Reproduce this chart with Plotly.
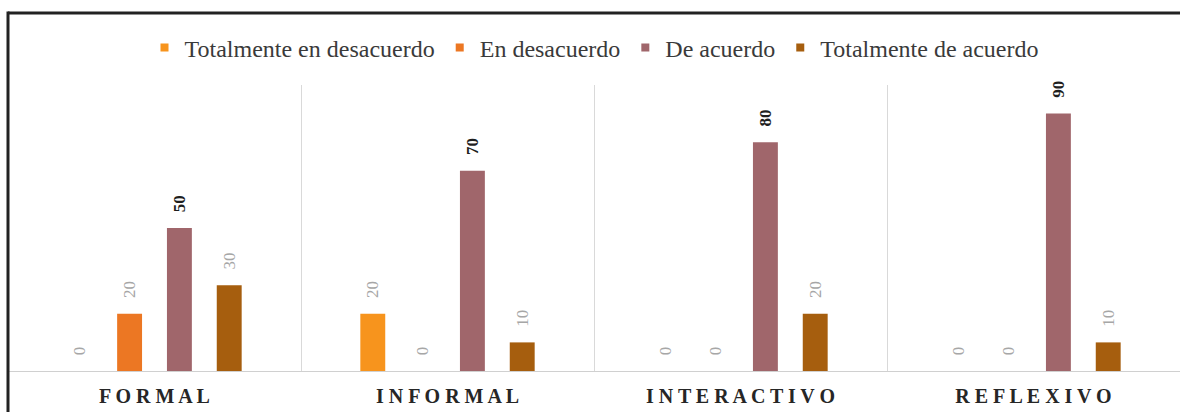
import plotly.graph_objects as go

categories = ["FORMAL", "INFORMAL", "INTERACTIVO", "REFLEXIVO"]
series_names = ["Totalmente en desacuerdo", "En desacuerdo", "De acuerdo", "Totalmente de acuerdo"]
totalmente_desacuerdo = [0, 20, 0, 0]
en_desacuerdo = [20, 0, 0, 0]
de_acuerdo = [50, 70, 80, 90]
totalmente_acuerdo = [30, 10, 20, 10]

series_values = [totalmente_desacuerdo, en_desacuerdo, de_acuerdo, totalmente_acuerdo]
colors = ["#F7941D", "#EC7723", "#A0666B", "#A65E0E"]
label_colors = ["#A6A6A6", "#A6A6A6", "#1E1E1E", "#A6A6A6"]
label_bold = [False, False, True, False]

SERIF = "Liberation Serif, Times New Roman, serif"
PAD = "\u00a0" * 3

W, H = 1180, 412
L, T, B = 8, 85, 41
PH = H - T - B

fig = go.Figure()
for name, vals, col, lcol, bold in zip(series_names, series_values, colors, label_colors, label_bold):
    fig.add_trace(go.Bar(
        x=categories, y=vals, name=name, marker_color=col, marker_line_width=0,
        text=[PAD + str(v) for v in vals], textposition="outside", textangle=-90,
        constraintext="none", cliponaxis=False,
        textfont=dict(family=SERIF, size=17, color=lcol, weight="bold" if bold else "normal"),
        showlegend=False, hoverinfo="skip",
    ))
# legend entries with small square symbols
for name, col in zip(series_names, colors):
    fig.add_trace(go.Scatter(
        x=[None], y=[None], mode="markers", name=name,
        marker=dict(symbol="square", size=8, color=col),
        showlegend=True,
    ))

top_y = (H - B - 13) / PH
fig.update_layout(
    width=W, height=H,
    margin=dict(l=L, r=0, t=T, b=B),
    paper_bgcolor="white", plot_bgcolor="white",
    barmode="group", bargap=0.32, bargroupgap=0.5,
    font=dict(family=SERIF, color="#333333"),
    legend=dict(orientation="h", x=0.5, xanchor="center", y=(H - B - 48) / PH, yanchor="middle",
                font=dict(family=SERIF, size=24, color="#3A3A3A"),
                itemsizing="trace", bgcolor="rgba(0,0,0,0)"),
    xaxis=dict(
        type="category",
        tickmode="array", tickvals=categories,
        ticktext=[" ".join(c) for c in categories],
        tickfont=dict(family=SERIF, size=20, color="#262626", weight="bold"),
        ticklabelstandoff=7,
        tickson="boundaries", ticks="", showgrid=True, gridcolor="#D9D9D9", gridwidth=1,
        showline=True, linecolor="#D0D0D0", linewidth=1,
        zeroline=False, fixedrange=True,
    ),
    yaxis=dict(range=[0, 100], visible=False, showgrid=False, zeroline=False, fixedrange=True),
    shapes=[
        dict(type="line", xref="paper", yref="paper", x0=0, x1=1.01, y0=top_y, y1=top_y,
             line=dict(color="#222222", width=3)),
        dict(type="line", xref="paper", yref="paper", x0=0, x1=0, y0=top_y + 0.005, y1=-0.3,
             line=dict(color="#222222", width=3)),
    ],
)

fig.write_html(
    "out.html",
    config={"displayModeBar": False},
    post_script="document.body.style.margin='0';document.body.style.overflow='hidden';",
)
